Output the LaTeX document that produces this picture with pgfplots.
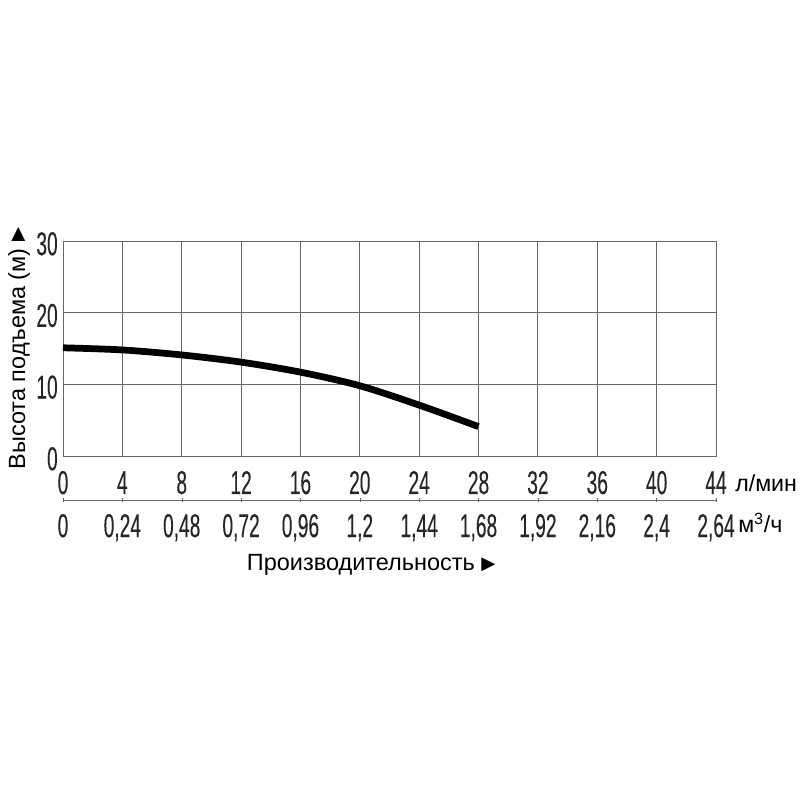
\documentclass[border=0pt]{standalone}
\usepackage{pgfplots}
\pgfplotsset{compat=1.18}
\usepackage{fontspec}
\setmainfont{Liberation Sans}
\newfontfamily\narrowfont[FakeStretch=0.58, FakeBold=0.15]{Liberation Sans}
\newfontfamily\symfont{DejaVu Sans}
\begin{document}
\begin{tikzpicture}
\path[use as bounding box] (0,0) rectangle (20cm,20cm);
\begin{axis}[
  at={(1.575cm,8.6cm)}, anchor=south west,
  scale only axis, width=16.325cm, height=5.375cm,
  xmin=0, xmax=44, ymin=0, ymax=30,
  xtick={0,4,...,44}, ytick={0,10,20,30},
  grid=major, major grid style={black!60, line width=0.7pt},
  axis line style={black!60, line width=0.7pt},
  major tick length=0pt,
  /pgf/number format/assume math mode=true,
  tick label style={font=\narrowfont\fontsize{23.5}{23.5}\selectfont, inner sep=0pt, text=black!85},
  xticklabel style={anchor=base, yshift=-0.95cm},
  yticklabel style={anchor=east, xshift=-0.125cm, yshift=-0.07cm},
  ylabel={Высота подъема (м)\ \raisebox{0.05em}{\symfont\fontsize{13}{13}\selectfont ▶}},
  ylabel style={at={(axis description cs:0,0.5)}, yshift=1.1cm, anchor=center, font=\fontsize{16.7}{16.7}\selectfont},
  xlabel={Производительность\ \raisebox{0.05em}{\symfont\fontsize{13}{13}\selectfont ▶}},
  xlabel style={at={(axis description cs:0.472,0)}, yshift=-2.725cm, anchor=center, font=\fontsize{16.7}{16.7}\selectfont},
  clip=false,
]
\addplot[black, line width=4.8pt, smooth] coordinates {
 (0,15.1) (4,14.8) (8,14.1) (12,13.1) (16,11.7) (20,9.8) (24,7.1) (28,4.1)
};
\node[anchor=west, font=\fontsize{16.5}{16.5}\selectfont, inner sep=0pt] at ([xshift=0.475cm, yshift=-0.675cm]axis description cs:1,0) {л/мин};
\end{axis}
\begin{axis}[
  at={(1.575cm,7.5cm)}, anchor=south west,
  scale only axis, width=16.325cm, height=0.5cm,
  xmin=0, xmax=44, ymin=0, ymax=1,
  axis x line*=bottom, axis y line=none,
  axis line style={black!60, line width=0.7pt},
  xtick={0,4,...,44},
  xticklabels={0,{0,24},{0,48},{0,72},{0,96},{1,2},{1,44},{1,68},{1,92},{2,16},{2,4},{2,64}},
  major tick length=3pt, tick style={black!60},
  tick align=center,
  xticklabel style={font=\narrowfont\fontsize{23.5}{23.5}\selectfont, inner sep=0pt, anchor=base, yshift=-0.875cm, text=black!85},
  clip=false,
]
\node[anchor=west, font=\fontsize{16.5}{16.5}\selectfont, inner sep=0pt] at ([xshift=0.55cm, yshift=-0.575cm]axis description cs:1,0) {м\textsuperscript{3}/ч};
\end{axis}
\end{tikzpicture}
\end{document}
